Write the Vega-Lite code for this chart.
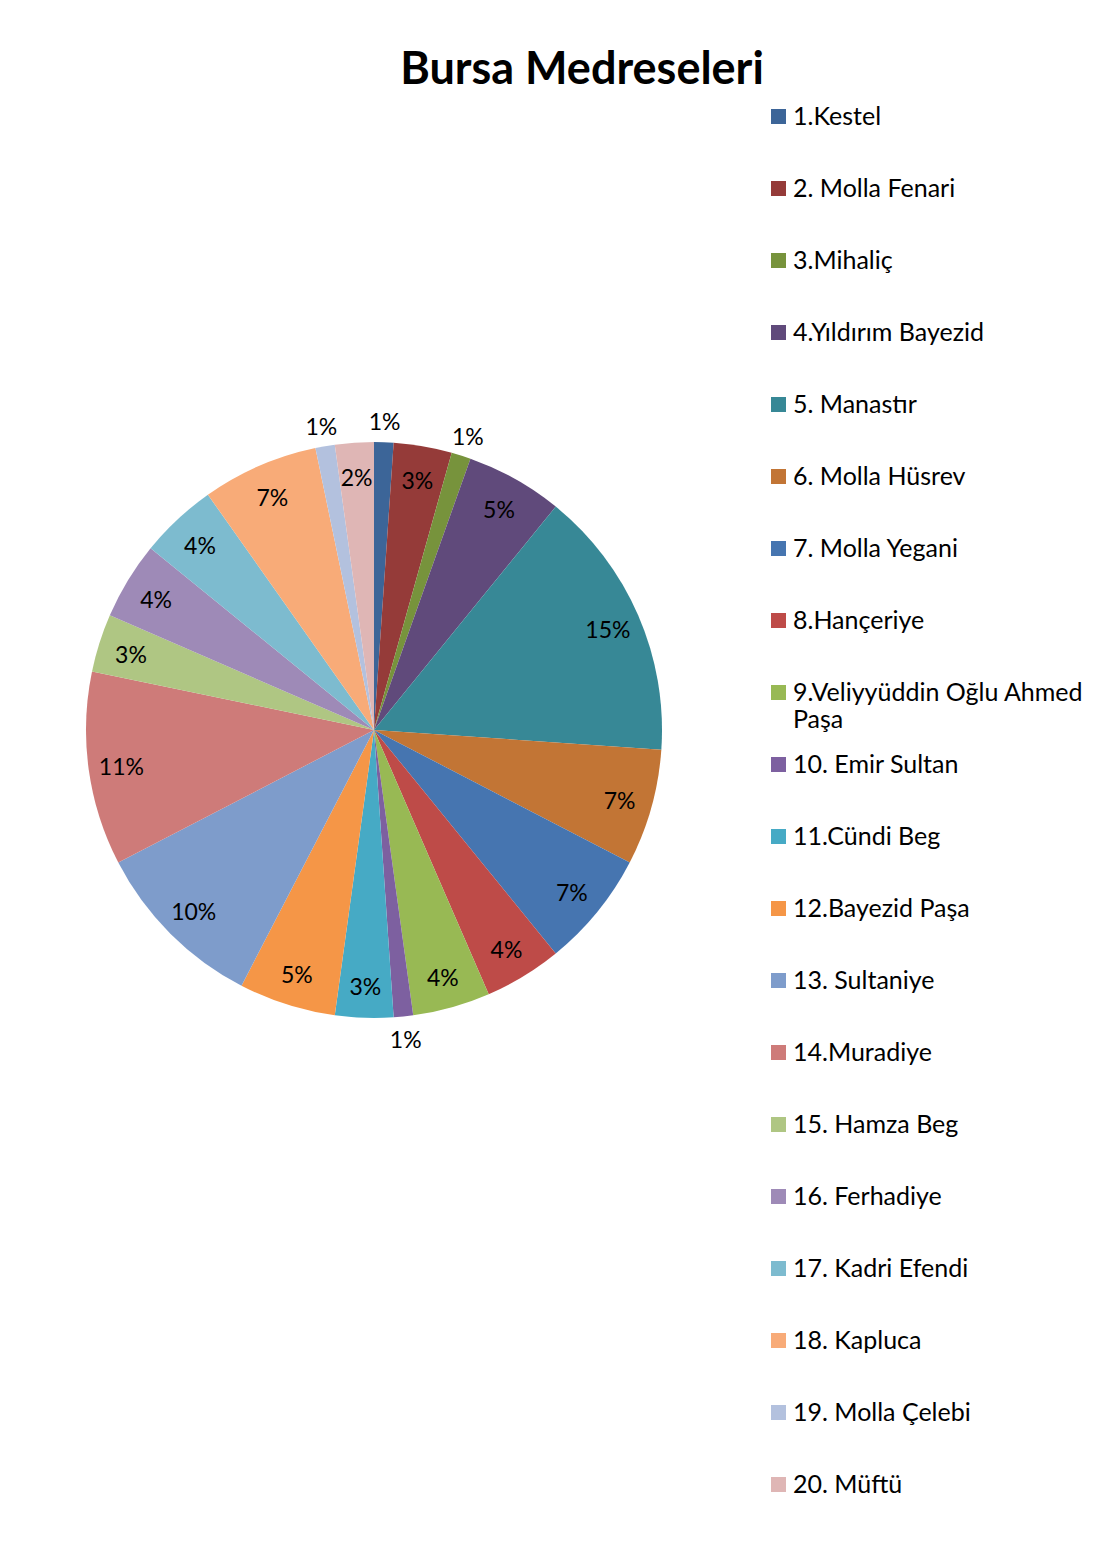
{
  "$schema": "https://vega.github.io/schema/vega-lite/v6.json",
  "autosize": {"type": "none"},
  "width": 748,
  "height": 1460,
  "padding": {"left": 0, "top": 0, "right": 356, "bottom": 99},
  "background": "white",
  "title": {
    "text": "Bursa Medreseleri",
    "font": "Lato",
    "fontSize": 45,
    "fontWeight": "bold",
    "color": "black",
    "anchor": "middle",
    "baseline": "alphabetic",
    "offset": -129,
    "dx": 208
  },
  "config": {"view": {"stroke": null}},
  "data": {
    "values": [
      {"i": 1, "name": "1.Kestel", "n": 1},
      {"i": 2, "name": "2. Molla Fenari", "n": 3},
      {"i": 3, "name": "3.Mihaliç", "n": 1},
      {"i": 4, "name": "4.Yıldırım Bayezid", "n": 5},
      {"i": 5, "name": "5. Manastır", "n": 14},
      {"i": 6, "name": "6. Molla Hüsrev", "n": 6},
      {"i": 7, "name": "7. Molla Yegani", "n": 6},
      {"i": 8, "name": "8.Hançeriye", "n": 4},
      {"i": 9, "name": "9.Veliyyüddin Oğlu Ahmed Paşa", "n": 4},
      {"i": 10, "name": "10. Emir Sultan", "n": 1},
      {"i": 11, "name": "11.Cündi Beg", "n": 3},
      {"i": 12, "name": "12.Bayezid Paşa", "n": 5},
      {"i": 13, "name": "13. Sultaniye", "n": 9},
      {"i": 14, "name": "14.Muradiye", "n": 10},
      {"i": 15, "name": "15. Hamza Beg", "n": 3},
      {"i": 16, "name": "16. Ferhadiye", "n": 4},
      {"i": 17, "name": "17. Kadri Efendi", "n": 4},
      {"i": 18, "name": "18. Kapluca", "n": 6},
      {"i": 19, "name": "19. Molla Çelebi", "n": 1},
      {"i": 20, "name": "20. Müftü", "n": 2}
    ]
  },
  "transform": [
    {"stack": "n", "groupby": [], "sort": [{"field": "i", "order": "ascending"}], "offset": "normalize", "as": ["s0", "s1"]},
    {"calculate": "datum.s1 - datum.s0", "as": "pct"},
    {"calculate": "(datum.s0 + datum.s1) / 2", "as": "mid"},
    {"calculate": "datum.pct < 0.015 ? 310 : 255", "as": "lr"}
  ],
  "layer": [
    {
      "mark": {"type": "arc", "outerRadius": 288},
      "encoding": {
        "theta": {"field": "s0", "type": "quantitative", "scale": {"domain": [0, 1], "nice": false}},
        "theta2": {"field": "s1"},
        "color": {
          "field": "name",
          "type": "nominal",
          "scale": {
            "domain": ["1.Kestel", "2. Molla Fenari", "3.Mihaliç", "4.Yıldırım Bayezid", "5. Manastır", "6. Molla Hüsrev", "7. Molla Yegani", "8.Hançeriye", "9.Veliyyüddin Oğlu Ahmed Paşa", "10. Emir Sultan", "11.Cündi Beg", "12.Bayezid Paşa", "13. Sultaniye", "14.Muradiye", "15. Hamza Beg", "16. Ferhadiye", "17. Kadri Efendi", "18. Kapluca", "19. Molla Çelebi", "20. Müftü"],
            "range": ["#3C6598", "#953B39", "#77933C", "#604A7B", "#378896", "#C27535", "#4675B0", "#BE4B48", "#98B954", "#7D60A0", "#46AAC5", "#F59647", "#7E9CCB", "#CE7B79", "#AFC683", "#9E8AB7", "#7DBBCF", "#F8AB78", "#B3C1DE", "#DFB6B5"]
          },
          "legend": {
            "title": null,
            "orient": "none",
            "legendX": 766,
            "legendY": 104,
            "padding": 0,
            "gridAlign": "all",
            "symbolType": "square",
            "symbolSize": 225,
            "symbolStrokeWidth": 0,
            "labelFont": "Lato",
            "labelFontSize": 25,
            "labelColor": "black",
            "labelOffset": 2,
            "labelLimit": 400,
            "rowPadding": 19,
            "labelExpr": "datum.label == '9.Veliyyüddin Oğlu Ahmed Paşa' ? ['9.Veliyyüddin Oğlu Ahmed', 'Paşa'] : datum.label"
          }
        }
      }
    },
    {
      "mark": {"type": "text", "font": "Lato", "fontSize": 23, "color": "black", "baseline": "middle", "align": "center", "dy": 3},
      "encoding": {
        "theta": {"field": "mid", "type": "quantitative"},
        "radius": {"field": "lr", "type": "quantitative", "scale": null},
        "text": {"field": "pct", "type": "quantitative", "format": ".0%"}
      }
    }
  ]
}
